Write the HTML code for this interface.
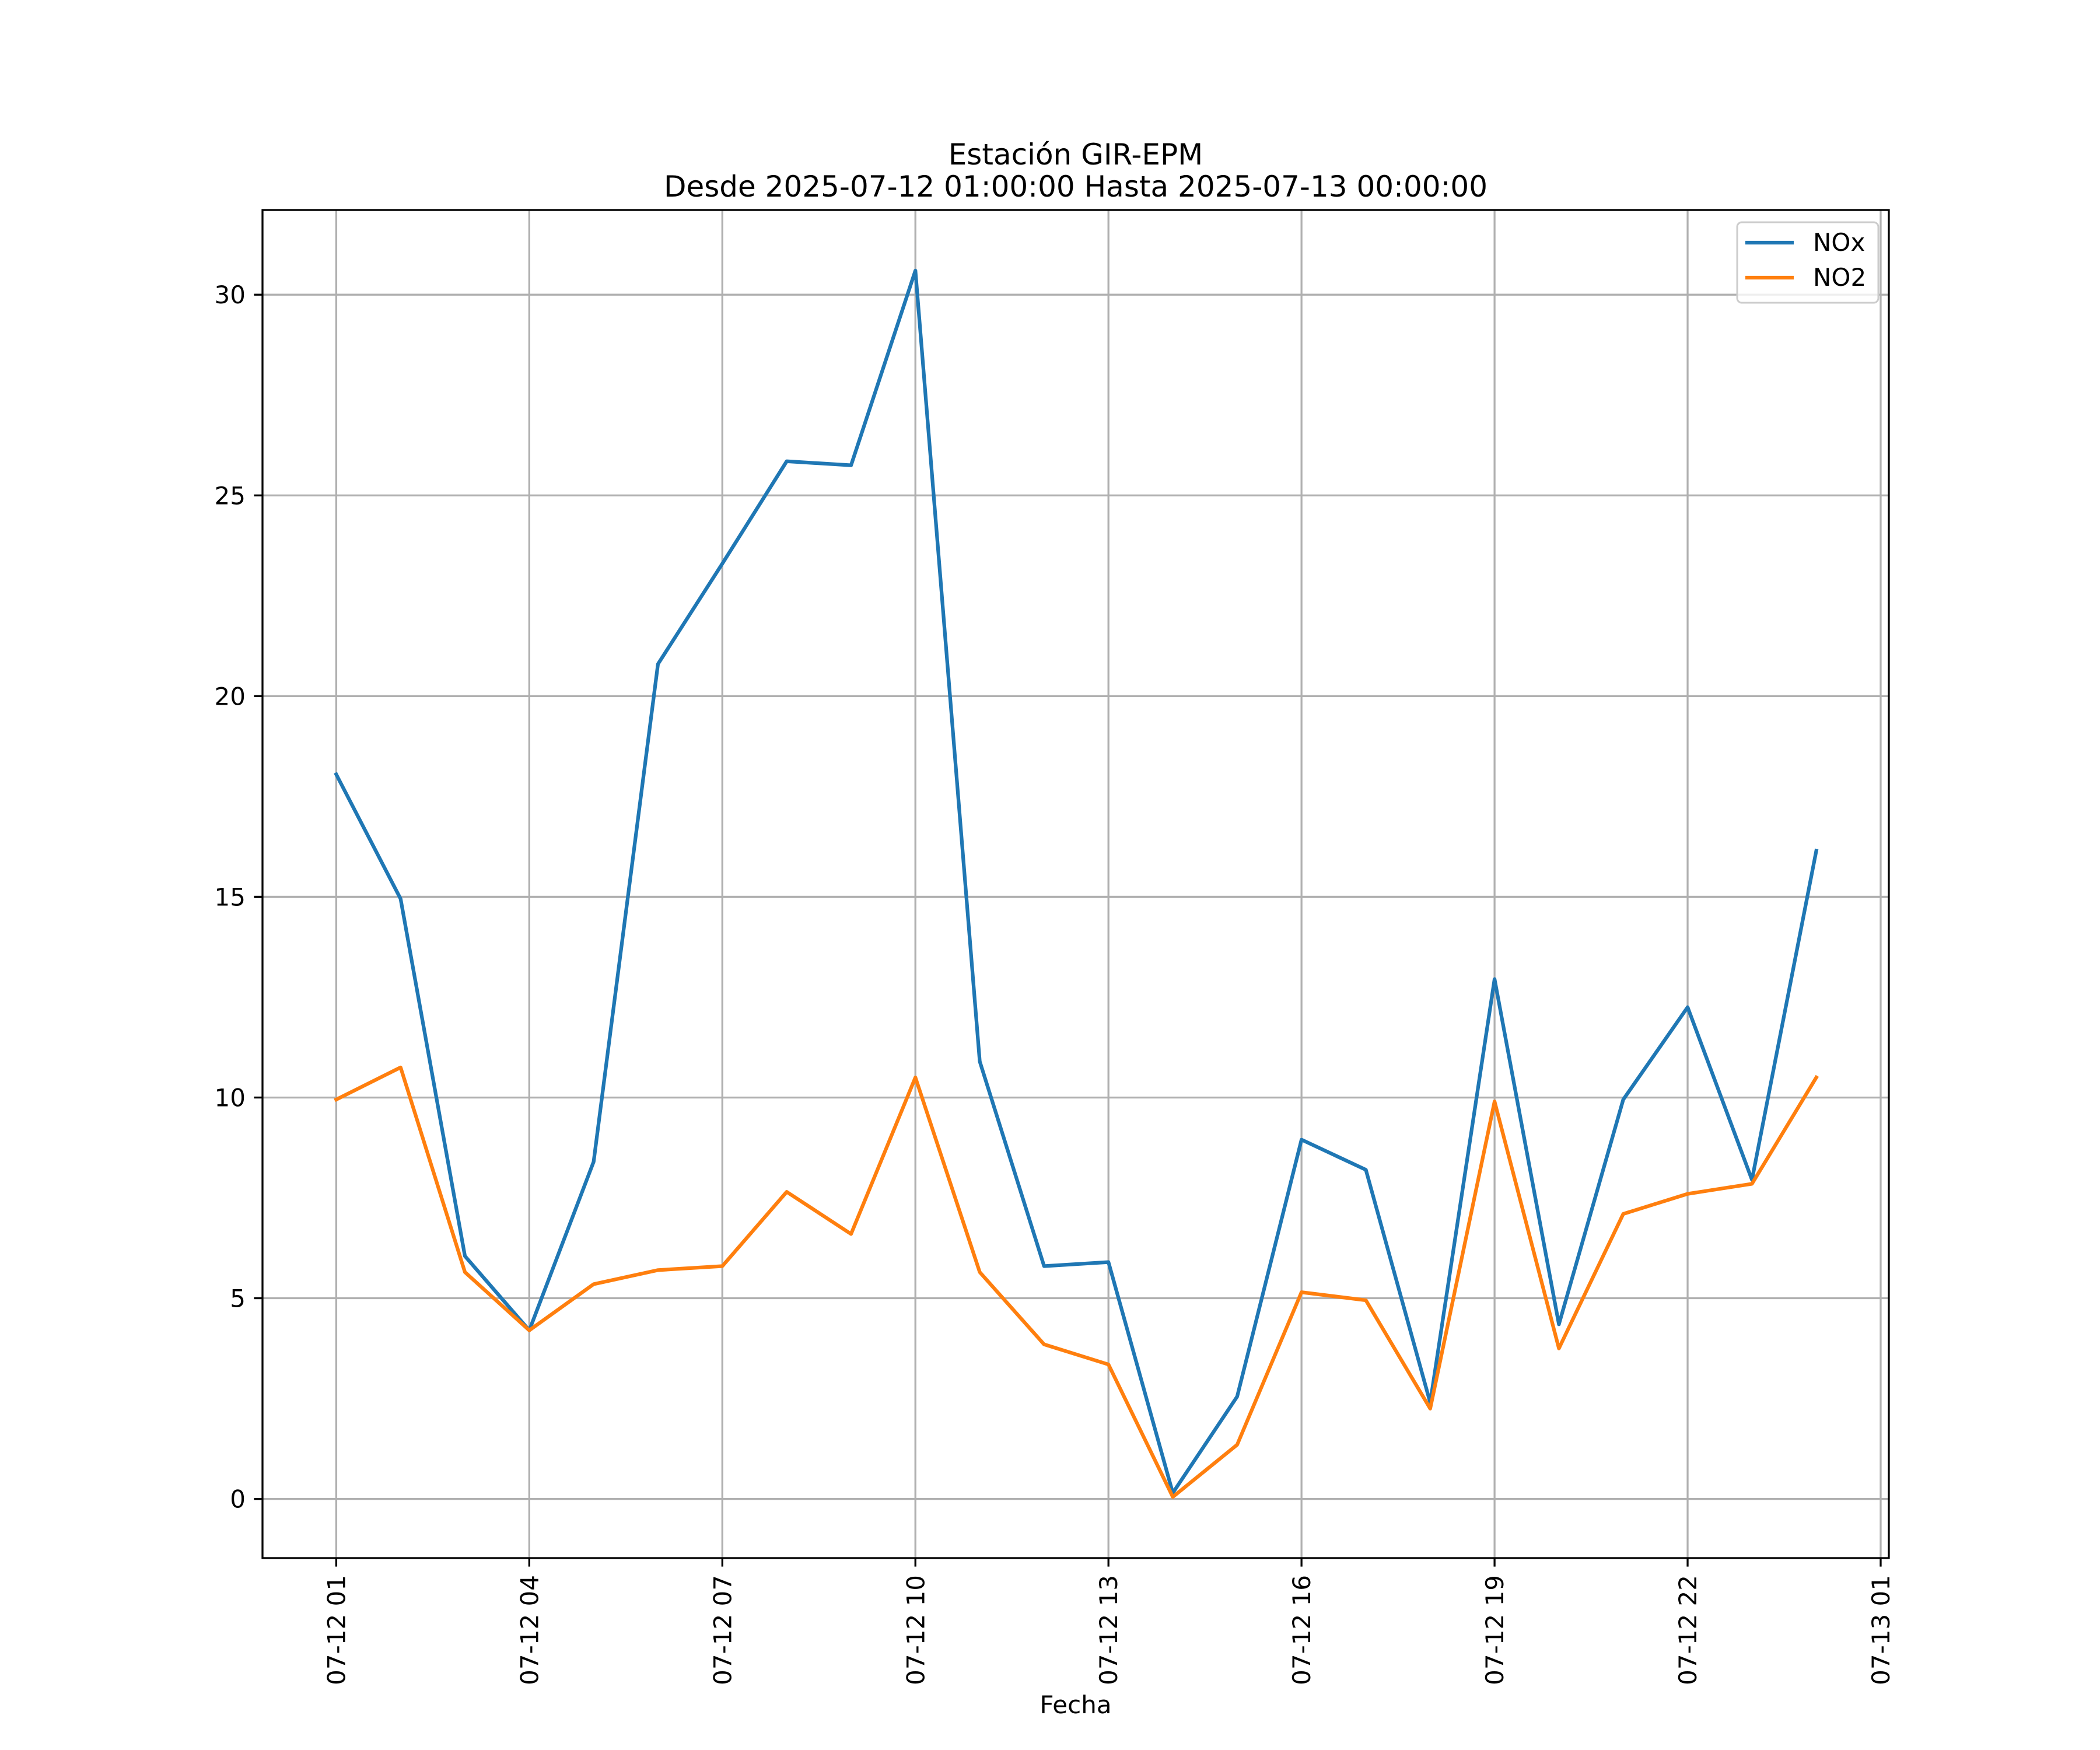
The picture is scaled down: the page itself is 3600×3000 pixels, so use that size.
<!DOCTYPE html>
<html><head><meta charset="utf-8"><style>html,body{margin:0;padding:0;background:#fff}svg{display:block}text{font-family:"DejaVu Sans","Liberation Sans",sans-serif;fill:#000}</style></head>
<body>
<svg id="chart" width="3600" height="3000" viewBox="0 0 3600 3000" xmlns="http://www.w3.org/2000/svg">
<rect width="3600" height="3000" fill="#fff"/>
<text x="1844" y="282" font-size="50" text-anchor="middle">Estación GIR-EPM</text>
<text x="1844" y="337" font-size="50" text-anchor="middle">Desde 2025-07-12 01:00:00 Hasta 2025-07-13 00:00:00</text>
<g id="grid"></g><g id="series"></g><g id="axes"></g>
<text x="1844" y="2937" font-size="42" text-anchor="middle">Fecha</text>
<g>
<rect x="2978" y="381" width="242" height="138" rx="8" fill="#fff" fill-opacity="0.8" stroke="#cccccc" stroke-width="3"/>
<line x1="2992" y1="416" x2="3075" y2="416" stroke="#1f77b4" stroke-width="6.25"/>
<text x="3108" y="430" font-size="42">NOx</text>
<line x1="2992" y1="476" x2="3075" y2="476" stroke="#ff7f0e" stroke-width="6.25"/>
<text x="3108" y="490" font-size="42">NO2</text>
</g>
</svg>
<script>
const hours = [1,2,3,4,5,6,7,8,9,10,11,12,13,14,15,16,17,18,19,20,21,22,23,24];
const noxValues = [18.05,14.95,6.05,4.2,8.4,20.8,23.3,25.85,25.75,30.6,10.9,5.8,5.9,0.15,2.55,8.95,8.2,2.4,12.95,4.35,9.95,12.25,7.95,16.15];
const no2Values = [9.95,10.75,5.65,4.2,5.35,5.7,5.8,7.65,6.6,10.5,5.65,3.85,3.35,0.05,1.35,5.15,4.95,2.25,9.9,3.75,7.1,7.6,7.85,10.5];
const yTicks = [0,5,10,15,20,25,30];
const xTickHours = [1,4,7,10,13,16,19,22,25];
const xTickLabels = ["07-12 01","07-12 04","07-12 07","07-12 10","07-12 13","07-12 16","07-12 19","07-12 22","07-13 01"];

const L=450,R=3238,T=360,B=2671;
const X0=576.4, XH=(3224-576.4)/24;
const Y0=2569.6, YU=(2569.6-505.2)/30;
const xs=h=>X0+(h-1)*XH;
const ys=v=>Y0-v*YU;
const NS="http://www.w3.org/2000/svg";
function mk(tag,attrs,parent){const e=document.createElementNS(NS,tag);for(const k in attrs)e.setAttribute(k,attrs[k]);parent.appendChild(e);return e;}
const grid=document.getElementById('grid'),axes=document.getElementById('axes'),series=document.getElementById('series');

yTicks.forEach(v=>{
  const y=ys(v);
  const g=mk('line',{x1:L,x2:R,y1:y,y2:y,stroke:'#b0b0b0','stroke-width':3.3},grid);
  
  
  mk('line',{x1:L-14.6,x2:L,y1:y,y2:y,stroke:'#000','stroke-width':3.3},axes);
  const t=mk('text',{x:L-29,y:y+15,'font-size':42,'text-anchor':'end'},axes);
  t.textContent=v;
  
  
});
xTickHours.forEach((h,i)=>{
  const x=xs(h);
  const g=mk('line',{x1:x,x2:x,y1:T,y2:B,stroke:'#b0b0b0','stroke-width':3.3},grid);
  
  
  mk('line',{x1:x,x2:x,y1:B,y2:B+14.6,stroke:'#000','stroke-width':3.3},axes);
  const t=mk('text',{x:0,y:0,'font-size':42,'text-anchor':'end',transform:`translate(${x+15},${B+29}) rotate(-90)`},axes);
  t.textContent=xTickLabels[i];
  
  
});
const frame=mk('rect',{x:L,y:T,width:R-L,height:B-T,fill:'none',stroke:'#000','stroke-width':3.3},axes);



function line(vals,color,name){
  const p=mk('polyline',{points:vals.map((v,i)=>xs(hours[i])+','+ys(v)).join(' '),fill:'none',stroke:color,'stroke-width':6.25,'stroke-linejoin':'round','stroke-linecap':'square'},series);
  
  
}
line(noxValues,'#1f77b4','nox-line');
line(no2Values,'#ff7f0e','no2-line');
</script>
</body></html>
